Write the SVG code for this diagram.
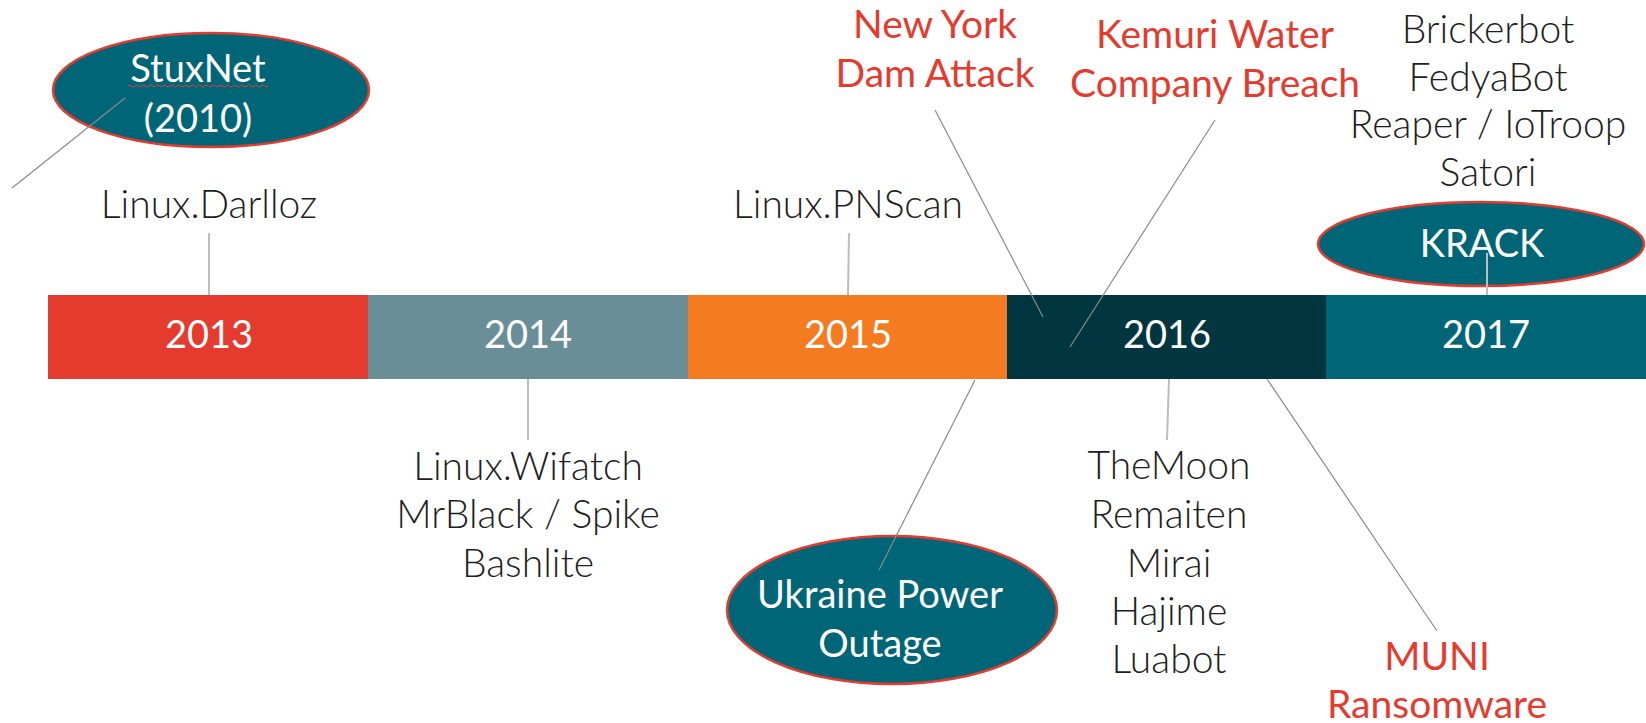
<svg xmlns="http://www.w3.org/2000/svg" width="1646" height="723" viewBox="0 0 1646 723">
<style>
text{font-family:Lato,"Open Sans","Liberation Sans",sans-serif;font-size:38px;text-anchor:middle}
.yr{fill:#ffffff;font-size:38px}
.blk{fill:#1e1e1e;font-weight:300;font-size:39px}
.red{fill:#E53B2F;font-size:39px}
.wh{fill:#ffffff}
.oval{fill:#006677;stroke:#E53B2F;stroke-width:2.5}
.vl{stroke:#bdbdbd;stroke-width:2;fill:none}
.dl{stroke:#8a8a8a;stroke-width:1.2;fill:none}
</style>
<rect width="1646" height="723" fill="#ffffff"/>
<g id="timeline">
<g id="y2013"><rect x="48" y="295" width="320" height="84" fill="#E53B2F"/><text class="yr" x="209" y="348">2013</text></g>
<g id="y2014"><rect x="368" y="295" width="320" height="84" fill="#6A8E98"/><text class="yr" x="528" y="348">2014</text></g>
<g id="y2015"><rect x="688" y="295" width="319" height="84" fill="#F57B20"/><text class="yr" x="848" y="348">2015</text></g>
<g id="y2016"><rect x="1007" y="295" width="319" height="84" fill="#013640"/><text class="yr" x="1167" y="348">2016</text></g>
<g id="y2017"><rect x="1326" y="295" width="320" height="84" fill="#006677"/><text class="yr" x="1486" y="348">2017</text></g>
</g>
<g id="stuxnet">
<ellipse class="oval" cx="211" cy="90" rx="158" ry="57"/>
<text class="wh" x="198" y="82">StuxNet</text>
<path d="M128 86 q1.75 -2 3.5 0 t3.5 0 t3.5 0 t3.5 0 t3.5 0 t3.5 0 t3.5 0 t3.5 0 t3.5 0 t3.5 0 t3.5 0 t3.5 0 t3.5 0 t3.5 0 t3.5 0 t3.5 0 t3.5 0 t3.5 0 t3.5 0 t3.5 0 t3.5 0 t3.5 0 t3.5 0 t3.5 0 t3.5 0 t3.5 0 t3.5 0 t3.5 0 t3.5 0 t3.5 0 t3.5 0 t3.5 0 t3.5 0 t3.5 0 t3.5 0 t3.5 0 t3.5 0 t3.5 0 t3.5 0 t3.5 0" fill="none" stroke="#E53B2F" stroke-width="1"/>
<text class="wh" x="198" y="132">(2010)</text>
</g>
<g id="darlloz"><text class="blk" x="209" y="218">Linux.Darlloz</text></g>
<g id="pnscan"><text class="blk" x="848" y="218">Linux.PNScan</text></g>
<g id="nydam"><text class="red" x="935" y="38">New York</text><text class="red" x="935" y="87">Dam Attack</text></g>
<g id="kemuri"><text class="red" x="1215" y="48">Kemuri Water</text><text class="red" x="1215" y="97">Company Breach</text></g>
<g id="bots2017"><text class="blk" x="1488" y="43">Brickerbot</text><text class="blk" x="1488" y="91">FedyaBot</text><text class="blk" x="1488" y="138">Reaper / IoTroop</text><text class="blk" x="1488" y="186">Satori</text></g>
<g id="krack"><ellipse class="oval" cx="1481" cy="244" rx="163" ry="42"/><text class="wh" x="1482" y="257">KRACK</text></g>
<g id="wifatch"><text class="blk" x="528" y="480">Linux.Wifatch</text><text class="blk" x="528" y="528">MrBlack / Spike</text><text class="blk" x="528" y="577">Bashlite</text></g>
<g id="ukraine"><ellipse class="oval" cx="892" cy="610" rx="165" ry="74"/><text class="wh" x="880" y="608">Ukraine Power</text><text class="wh" x="880" y="657">Outage</text></g>
<g id="bots2016"><text class="blk" x="1169" y="479">TheMoon</text><text class="blk" x="1169" y="528">Remaiten</text><text class="blk" x="1169" y="577">Mirai</text><text class="blk" x="1169" y="625">Hajime</text><text class="blk" x="1169" y="673">Luabot</text></g>
<g id="muni"><text class="red" x="1437" y="670">MUNI</text><text class="red" x="1437" y="718">Ransomware</text></g>
<g id="connectors">
<line class="dl" x1="12" y1="188" x2="125" y2="98"/>
<line class="vl" x1="209" y1="233" x2="209" y2="295"/>
<line class="vl" x1="528" y1="379" x2="528" y2="440"/>
<line class="vl" x1="849" y1="233" x2="848" y2="295"/>
<line class="dl" x1="975" y1="380" x2="879" y2="570"/>
<line class="dl" x1="935" y1="110" x2="1043" y2="317"/>
<line class="dl" x1="1215" y1="120" x2="1070" y2="347"/>
<line class="vl" x1="1169" y1="379" x2="1167" y2="440"/>
<line class="dl" x1="1267" y1="379" x2="1437" y2="631"/>
<line class="vl" x1="1487" y1="253" x2="1487" y2="295"/>
</g>
</svg>
